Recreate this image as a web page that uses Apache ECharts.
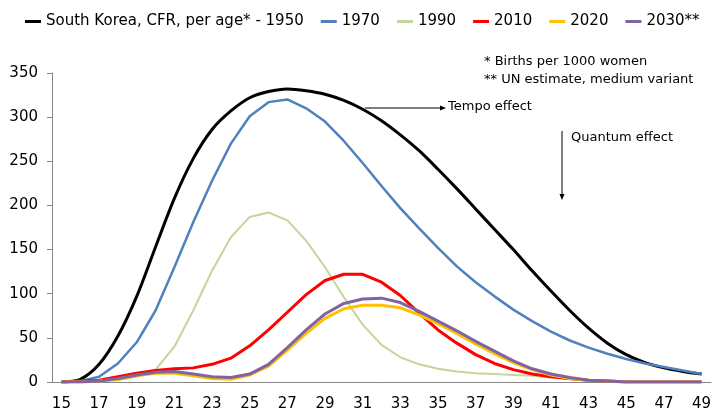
<!DOCTYPE html>
<html>
<head>
<meta charset="utf-8">
<script src="https://cdn.jsdelivr.net/npm/echarts@6/dist/echarts.min.js"></script>
<style>
  html, body { margin: 0; padding: 0; background: #fff; }
  #chart { width: 722px; height: 417px; }
</style>
</head>
<body>
<div id="chart"></div>
<script>
// ages (x axis categories)
const ages = ['15', '16', '17', '18', '19', '20', '21', '22', '23', '24', '25', '26', '27', '28', '29', '30', '31', '32',
  '33', '34', '35', '36', '37', '38', '39', '40', '41', '42', '43', '44', '45', '46', '47', '48', '49']

// births per 1000 women, by age
const cfr1950 = [0, 3, 20, 52, 97, 153, 208, 253, 286, 307, 322, 329, 332, 330, 326, 319, 309, 296, 280, 262, 241, 219, 196, 173, 150, 126, 103, 81, 61, 44, 31, 22, 16, 12, 9]
const cfr1970 = [0, 1, 6, 21, 45, 81, 130, 181, 228, 270, 301, 317, 320, 310, 295, 273, 248, 222, 197, 174, 152, 131, 113, 97, 82, 69, 57, 47, 39, 32, 26, 21, 17, 13, 9]
const cfr1990 = [0, 0, 1, 2, 6, 14, 40, 81, 126, 164, 187, 192, 183, 160, 130, 96, 65, 42, 28, 20, 15, 12, 10, 9, 8, 7, 5, 3, 2, 1, 1, 0, 0, 0, 0]
const cfr2010 = [0, 1, 2, 6, 10, 13, 15, 16, 20, 27, 41, 59, 79, 99, 115, 122, 122, 113, 98, 78, 59, 44, 31, 21, 14, 9, 6, 4, 2, 1, 0, 0, 0, 0, 0]
const cfr2020 = [0, 0, 1, 3, 7, 10, 10, 7, 4, 3, 8, 18, 36, 55, 72, 83, 87, 87, 84, 76, 66, 55, 43, 32, 22, 14, 8, 4, 2, 1, 0, 0, 0, 0, 0]
const cfr2030 = [0, 0, 1, 4, 8, 11, 12, 9, 6, 5, 9, 20, 39, 59, 77, 89, 94, 95, 90, 80, 69, 58, 46, 35, 24, 15, 9, 5, 2, 1, 0, 0, 0, 0, 0]

const seriesNames = ['South Korea, CFR, per age* - 1950', '1970', '1990', '2010', '2020', '2030**']
const seriesColors = ['#000000', '#4f81bd', '#c3d69b', '#ff0000', '#ffc000', '#8064a2']
const seriesWidths = [3, 2.5, 2, 3, 3, 3]

const FONT = 'DejaVu Sans'
const chart = echarts.init(document.getElementById('chart'))

const lineSeries = [cfr1950, cfr1970, cfr1990, cfr2010, cfr2020, cfr2030].map((values, i) => ({
  name: seriesNames[i],
  type: 'line',
  data: values,
  symbol: 'none',
  smooth: i === 0 ? 0.3 : false,
  lineStyle: { color: seriesColors[i], width: seriesWidths[i] },
  itemStyle: { color: seriesColors[i] },
  animation: false
}))

const option = {
  backgroundColor: '#fff',
  animation: false,
  legend: {
    left: 20,
    top: 9,
    icon: 'rect',
    itemWidth: 16,
    itemHeight: 3,
    itemGap: 17,
    textStyle: { fontFamily: FONT, fontSize: 15, color: '#000' },
    data: seriesNames
  },
  grid: { left: 52, right: 11, top: 73, bottom: 35 },
  xAxis: {
    type: 'category',
    data: ages,
    boundaryGap: true,
    axisLine: { lineStyle: { color: '#868686', width: 1 } },
    axisTick: { interval: 0, length: 5, lineStyle: { color: '#868686' } },
    axisLabel: { interval: 1, fontFamily: FONT, fontSize: 15, color: '#000', margin: 15 },
    splitLine: { show: false }
  },
  yAxis: {
    type: 'value',
    min: 0,
    max: 350,
    interval: 50,
    axisLine: { show: true, lineStyle: { color: '#868686', width: 1 } },
    axisTick: { show: true, length: 5, lineStyle: { color: '#868686' } },
    axisLabel: { fontFamily: FONT, fontSize: 15, color: '#000', margin: 14 },
    splitLine: { show: false }
  },
  series: lineSeries,
  graphic: [
    // notes
    { type: 'text', left: 484, top: 55, style: { text: '* Births per 1000 women', font: '13px ' + FONT, fill: '#000' } },
    { type: 'text', left: 484, top: 73, style: { text: '** UN estimate, medium variant', font: '13px ' + FONT, fill: '#000' } },
    // tempo arrow
    { type: 'line', shape: { x1: 365, y1: 108, x2: 441, y2: 108 }, style: { stroke: '#000', lineWidth: 1 } },
    { type: 'polygon', shape: { points: [[446, 108], [440, 105.5], [440, 110.5]] }, style: { fill: '#000' } },
    { type: 'text', left: 448, top: 100, style: { text: 'Tempo effect', font: '13px ' + FONT, fill: '#000' } },
    // quantum arrow
    { type: 'line', shape: { x1: 562, y1: 131, x2: 562, y2: 195 }, style: { stroke: '#000', lineWidth: 1 } },
    { type: 'polygon', shape: { points: [[562, 200], [559.5, 194], [564.5, 194]] }, style: { fill: '#000' } },
    { type: 'text', left: 571, top: 131, style: { text: 'Quantum effect', font: '13px ' + FONT, fill: '#000' } }
  ]
}

chart.setOption(option)
</script>
</body>
</html>
